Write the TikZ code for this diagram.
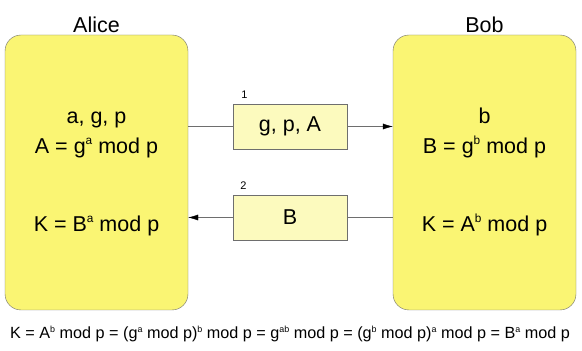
\documentclass[tikz,border=0pt]{standalone}
\usepackage{fontspec}
\setmainfont{Liberation Sans}
\usetikzlibrary{positioning,arrows.meta}

\definecolor{partyfill}{RGB}{250,245,115}
\definecolor{msgfill}{RGB}{252,250,190}
\definecolor{edgegray}{RGB}{110,110,110}
\newcommand{\expo}[1]{\raisebox{0.42em}{\scalebox{0.55}{#1}}}

\begin{document}
\begin{tikzpicture}[
				x=1pt, y=1pt,
				every node/.style={font=\fontsize{21.5}{24}\selectfont},
				party/.style={
						draw=edgegray,
						fill=partyfill,
						rectangle,
						rounded corners=16pt,
						minimum width=183pt,
						minimum height=275pt
					},
				msg/.style={
						draw=edgegray,
						fill=msgfill,
						rectangle,
						minimum width=114pt,
						minimum height=45pt
					},
				calc/.style={align=center, text height=15pt, text depth=4pt, inner sep=1pt},
				seq/.style={font=\fontsize{11}{12}\selectfont},
				link/.style={draw=edgegray, thin},
				arrow/.style={link, -{Latex[color=black, length=10pt, width=6pt]}}
			]
		\useasboundingbox (0,0) rectangle (582,351);

		% Parties
		\node[party] (alice) at (96.5,178.5) {};
		\node[party] (bob) at (484.5,178.5) {};
		\node[above=0pt of alice, inner sep=2pt] (alicename) {Alice};
		\node[above=0pt of bob, inner sep=2pt] (bobname) {Bob};

		% Computations inside each party
		\node[calc] (alicekey) at (96.5,233) {a, g, p};
		\node[calc, below=9pt of alicekey] (alicepub) {A = g\expo{a} mod p};
		\node[calc] (aliceshared) at (96.5,125) {K = B\expo{a} mod p};
		\node[calc] (bobkey) at (484.5,233) {b};
		\node[calc, below=9pt of bobkey] (bobpub) {B = g\expo{b} mod p};
		\node[calc] (bobshared) at (484.5,125) {K = A\expo{b} mod p};

		% Messages
		\node[msg] (m1) at (290,224.5) {g, p, A};
		\node[msg] (m2) at (290,133.5) {B};
		\node[seq, anchor=south west] (m1num) at ([xshift=5pt, yshift=2pt]m1.north west) {1};
		\node[seq, anchor=south west] (m2num) at ([xshift=4pt, yshift=2pt]m2.north west) {2};

		\draw[link] (alice.east |- m1.west) -- (m1.west);
		\draw[arrow] (m1.east) -- (bob.west |- m1.east);
		\draw[link] (bob.west |- m2.east) -- (m2.east);
		\draw[arrow] (m2.west) -- (alice.east |- m2.west);

		% Shared secret
		\node[font=\fontsize{16.2}{18}\selectfont] (proof) at (290,17) {K = A\expo{b} mod p = (g\expo{a} mod p)\expo{b} mod p = g\expo{ab} mod p = (g\expo{b} mod p)\expo{a} mod p = B\expo{a} mod p};
	\end{tikzpicture}
\end{document}
